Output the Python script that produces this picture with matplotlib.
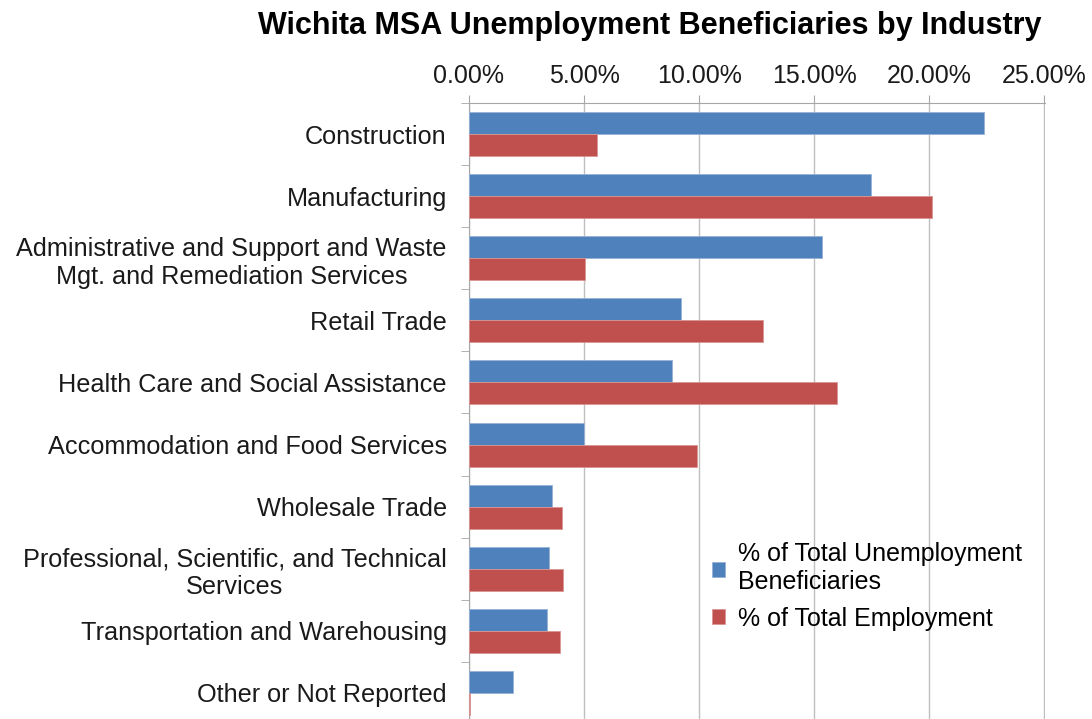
import matplotlib.pyplot as plt
import numpy as np
from matplotlib.ticker import FixedLocator

plt.rcParams['font.family'] = ['Liberation Sans', 'DejaVu Sans']

industries = ["Construction",
              "Manufacturing",
              "Administrative and Support and Waste\nMgt. and Remediation Services",
              "Retail Trade",
              "Health Care and Social Assistance",
              "Accommodation and Food Services",
              "Wholesale Trade",
              "Professional, Scientific, and Technical\nServices",
              "Transportation and Warehousing",
              "Other or Not Reported"]
unemp_share = [22.4, 17.45, 15.32, 9.2, 8.8, 5.0, 3.59, 3.47, 3.41, 1.93]
emp_share = [5.58, 20.1, 5.03, 12.76, 15.97, 9.9, 4.02, 4.07, 3.94, 0.05]
xticks = [0, 5, 10, 15, 20, 25]

blue = '#4F81BD'
red = '#C0504D'
grey = '#A6A6A6'

fig = plt.figure(figsize=(10.92, 7.19), dpi=100)
ax = fig.add_axes([469/1092, -5/719, 576/1092, 621/719])

y = np.arange(len(industries))
h = 0.355
ax.barh(y - h/2, unemp_share, height=h, color=blue, edgecolor='#95B3D7', linewidth=0.6,
        label="% of Total Unemployment\nBeneficiaries", zorder=3)
ax.barh(y + h/2, emp_share, height=h, color=red, edgecolor='#D99694', linewidth=0.6,
        label="% of Total Employment", zorder=3)

ax.set_xlim(0, 25.03)
ax.set_ylim(len(industries) - 0.5, -0.5)

ax.xaxis.tick_top()
ax.set_xticks(xticks)
ax.set_xticklabels(["%.2f%%" % v for v in xticks], fontsize=18)
ax.tick_params(axis='x', direction='out', length=6, color=grey, pad=5, labelcolor='#1a1a1a')
ax.grid(axis='x', color='#BFBFBF', linewidth=1, zorder=0)

ax.set_yticks(y)
ax.set_yticklabels(industries, fontsize=18.2, multialignment='center')
ax.tick_params(axis='y', which='major', length=0, pad=16, labelcolor='#1a1a1a')
ax.yaxis.set_minor_locator(FixedLocator(np.arange(-0.5, len(industries) + 0.5, 1)))
ax.tick_params(axis='y', which='minor', direction='out', length=6, color=grey)

for s in ['right', 'bottom']:
    ax.spines[s].set_visible(False)
ax.spines['left'].set_color(grey)
ax.spines['top'].set_color(grey)

ax.legend(loc='upper left', bbox_to_anchor=(689/1092, 1 - 520/719),
          bbox_transform=fig.transFigure, frameon=False, fontsize=18,
          handlelength=0.55, handleheight=0.55, handletextpad=0.5,
          labelspacing=0.5)

fig.text(650/1092, 1 - 26/719, "Wichita MSA Unemployment Beneficiaries by Industry",
         ha='center', va='center', fontsize=22, fontweight='bold')

plt.savefig('out.png', dpi=100)
